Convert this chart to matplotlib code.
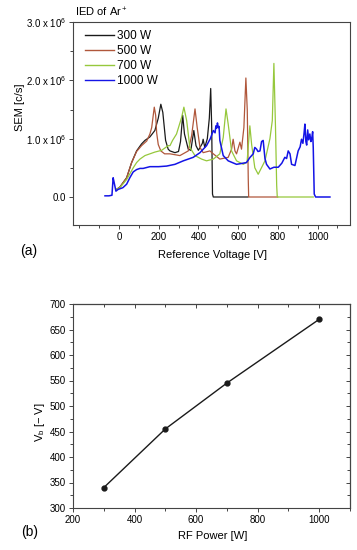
import matplotlib
matplotlib.use("Agg")
import matplotlib.pyplot as plt
from matplotlib.ticker import MultipleLocator, FixedLocator

plt.rcParams['font.family'] = ['Liberation Sans', 'DejaVu Sans']
plt.rcParams['mathtext.fontset'] = 'custom'
plt.rcParams['mathtext.rm'] = 'Liberation Sans'
plt.rcParams['mathtext.it'] = 'Liberation Sans:italic'
plt.rcParams['mathtext.default'] = 'regular'

# ---- (a) ion energy distributions, counts in units of 1e6 c/s ----
v_300 = [-12, 5, 39, 64, 89, 114, 131, 156, 181, 198, 211, 221, 235, 248, 257, 282,
         300, 310, 321, 330, 349, 362, 377, 388, 400, 420, 424, 432, 445, 455, 462,
         467, 471, 475, 649]
c_300 = [0.13, 0.17, 0.33, 0.59, 0.79, 0.91, 0.97, 1.03, 1.14, 1.35, 1.59, 1.45, 0.97, 0.82, 0.79, 0.76,
         0.78, 0.95, 1.40, 1.08, 0.82, 0.80, 1.14, 0.88, 0.80, 0.92, 0.99, 0.85, 1.00, 1.35, 1.86,
         1.20, 0.05, 0.0, 0.0]

v_500 = [-12, 5, 39, 64, 89, 114, 140, 156, 165, 178, 185, 190, 198, 211, 230, 257,
         307, 349, 366, 383, 394, 408, 424, 458, 475, 508, 550, 567, 575, 584, 592,
         609, 617, 629, 639, 646, 651, 653, 799]
c_500 = [0.13, 0.17, 0.33, 0.59, 0.78, 0.88, 0.96, 1.08, 1.19, 1.54, 1.40, 1.10, 0.90, 0.79, 0.74, 0.74,
         0.71, 0.79, 1.05, 1.51, 1.19, 0.85, 0.76, 0.79, 0.74, 0.65, 0.68, 0.82, 0.99, 0.79, 0.74,
         0.94, 0.82, 1.19, 2.04, 1.49, 0.30, 0.0, 0.0]

v_700 = [-12, 5, 39, 72, 89, 106, 131, 156, 181, 215, 248, 257, 270, 290, 316, 327,
         341, 357, 383, 416, 441, 475, 508, 525, 539, 550, 567, 592, 626, 645, 659,
         668, 684, 701, 735, 760, 772, 780, 788, 794, 797, 978]
c_700 = [0.13, 0.16, 0.30, 0.50, 0.59, 0.65, 0.71, 0.74, 0.77, 0.80, 0.88, 0.88, 0.97, 1.08, 1.37, 1.54,
         1.31, 0.85, 0.71, 0.65, 0.62, 0.65, 0.74, 1.02, 1.51, 1.25, 0.79, 0.62, 0.56, 0.60, 1.22,
         0.90, 0.50, 0.39, 0.62, 1.00, 1.31, 2.29, 1.20, 0.20, 0.0, 0.0]

v_1000 = [-70, -50, -35, -29, -24, -15, -4, 20, 39, 55, 72, 89, 106, 122, 156, 200,
          240, 282, 324, 374, 408, 441, 460, 475, 484, 488, 492, 496, 500, 504, 508,
          525, 550, 592, 642, 660, 676, 684, 693, 700, 710, 718, 726, 735, 743, 760,
          780, 802, 820, 835, 844, 852, 861, 869, 886, 902, 912, 919, 926, 932, 936,
          941, 945, 950, 955, 961, 966, 970, 975, 978, 983, 990, 1062]
c_1000 = [0.02, 0.02, 0.03, 0.33, 0.25, 0.10, 0.13, 0.16, 0.22, 0.33, 0.43, 0.47, 0.49, 0.49, 0.52, 0.52,
          0.53, 0.56, 0.62, 0.68, 0.76, 0.88, 1.00, 1.14, 1.10, 1.22, 1.18, 1.27, 1.19, 1.21, 0.97,
          0.71, 0.62, 0.56, 0.59, 0.68, 0.74, 0.85, 0.82, 0.78, 0.79, 0.95, 0.97, 0.66, 0.56, 0.48,
          0.51, 0.51, 0.58, 0.68, 0.66, 0.79, 0.74, 0.56, 0.54, 0.79, 0.86, 0.99, 0.92, 1.10, 1.25,
          0.95, 0.89, 1.15, 0.98, 1.08, 0.95, 0.99, 1.12, 0.85, 0.05, 0.0, 0.0]

powers = ["300 W", "500 W", "700 W", "1000 W"]
colors = ["#1a1a1a", "#b0573b", "#96c83c", "#1414e6"]

# ---- (b) bias voltage vs RF power ----
rf_power = [300, 500, 700, 1000]
v_bias = [340, 455, 545, 670]

fig = plt.figure(figsize=(3.57, 5.5), dpi=100)
W, H = 357.0, 550.0

def px_axes(l, t, r, b):
    return fig.add_axes([l / W, 1 - b / H, (r - l) / W, (b - t) / H])

spine_col = "#444444"

ax1 = px_axes(73, 22, 350, 225)
series = [(v_300, c_300), (v_500, c_500), (v_700, c_700), (v_1000, c_1000)]
for (v, c), lab, col in zip(series, powers, colors):
    lw = 1.1 if lab == "1000 W" else 0.9
    ax1.plot(v, c, color=col, lw=lw, label=lab)
ax1.set_xlim(-231, 1163)
ax1.set_ylim(-0.48, 3.0)
ax1.xaxis.set_major_locator(FixedLocator([0, 200, 400, 600, 800, 1000]))
ax1.xaxis.set_minor_locator(MultipleLocator(100))
ax1.yaxis.set_major_locator(FixedLocator([0, 1, 2, 3]))
ax1.yaxis.set_minor_locator(MultipleLocator(0.5))
ax1.set_yticklabels(["0.0", "1.0 x 10$^6$", "2.0 x 10$^6$", "3.0 x 10$^6$"])
ax1.tick_params(which="both", direction="out", labelsize=7, color=spine_col, width=0.7, pad=2)
ax1.tick_params(which="major", length=3)
ax1.tick_params(which="minor", length=2)
for s in ax1.spines.values():
    s.set_color(spine_col)
    s.set_linewidth(0.8)
leg = ax1.legend(loc="upper left", bbox_to_anchor=(0.045, 0.962), frameon=False, fontsize=8.5,
                 handlelength=2.4, handletextpad=0.25, labelspacing=0.27, borderpad=0,
                 borderaxespad=0)
for h in leg.get_lines():
    h.set_linewidth(1.0)

fig.text(75 / W, 1 - 12 / H, "IED of Ar$^+$", fontsize=8, ha="left", va="center")
fig.text(20 / W, 1 - 107 / H, "SEM [c/s]", fontsize=8, rotation=90, ha="center", va="center")
fig.text(212 / W, 1 - 255 / H, "Reference Voltage [V]", fontsize=8, ha="center", va="center")
fig.text(29 / W, 1 - 251 / H, "(a)", fontsize=10, ha="center", va="center")

ax2 = px_axes(73, 304, 350, 508)
ax2.plot(rf_power, v_bias, color="#1a1a1a", lw=1.0, marker="o", ms=3.5)
ax2.set_xlim(200, 1100)
ax2.set_ylim(300, 700)
ax2.xaxis.set_major_locator(MultipleLocator(200))
ax2.xaxis.set_minor_locator(MultipleLocator(100))
ax2.yaxis.set_major_locator(MultipleLocator(50))
ax2.yaxis.set_minor_locator(MultipleLocator(25))
ax2.tick_params(which="both", direction="out", labelsize=7, color=spine_col, width=0.7, pad=2)
ax2.tick_params(which="major", length=3)
ax2.tick_params(which="minor", length=2)
for s in ax2.spines.values():
    s.set_color(spine_col)
    s.set_linewidth(0.8)
# mirrored inward ticks on top and right
tx = ax2.secondary_xaxis("top")
tx.xaxis.set_major_locator(MultipleLocator(200))
tx.xaxis.set_minor_locator(MultipleLocator(100))
tx.tick_params(which="both", direction="in", labeltop=False, color=spine_col, width=0.7)
tx.tick_params(which="major", length=3)
tx.tick_params(which="minor", length=2)
ty = ax2.secondary_yaxis("right")
ty.yaxis.set_major_locator(MultipleLocator(50))
ty.yaxis.set_minor_locator(MultipleLocator(25))
ty.tick_params(which="both", direction="in", labelright=False, color=spine_col, width=0.7)
ty.tick_params(which="major", length=3)
ty.tick_params(which="minor", length=2)

fig.text(40 / W, 1 - 422 / H, "V$_b$ [\u2212 V]", fontsize=8, rotation=90, ha="center", va="center")
fig.text(213 / W, 1 - 536 / H, "RF Power [W]", fontsize=8, ha="center", va="center")
fig.text(30 / W, 1 - 532 / H, "(b)", fontsize=10, ha="center", va="center")

fig.savefig("out.png", dpi=100)
